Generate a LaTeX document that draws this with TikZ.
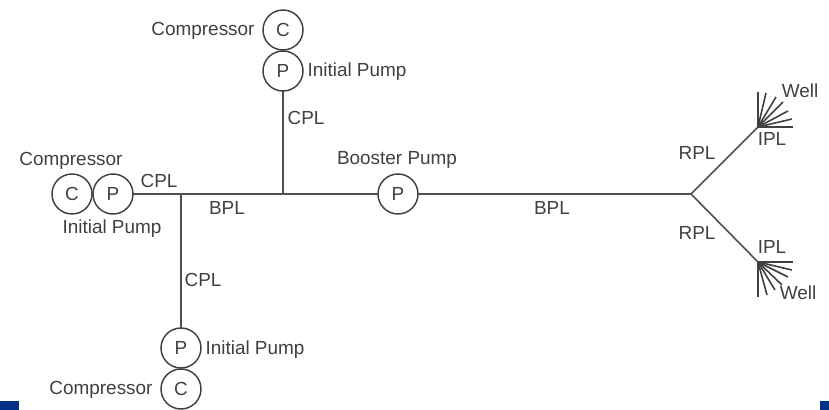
\documentclass[tikz,border=0pt]{standalone}
\usepackage{fontspec}
\setmainfont{Liberation Sans}
\definecolor{ink}{HTML}{404040}
\definecolor{pipe}{HTML}{505050}
\definecolor{cornerblue}{HTML}{003087}
\tikzset{
  unit/.style={circle,draw=ink,line width=1.1pt,minimum size=30pt,inner sep=0pt,outer sep=0pt,text=ink},
  lab/.style={inner sep=0pt,outer sep=0pt,text=ink},
  pipeline/.style={draw=pipe,line width=1.6pt},
  spur/.style={draw=ink,line width=1.2pt,line cap=butt},
  corner/.style={fill=cornerblue,draw=none}
}
\begin{document}
\begin{tikzpicture}[x=0.75pt,y=-0.75pt,font=\fontsize{14.2pt}{16pt}\selectfont]
\useasboundingbox (0,0) rectangle (829,410);
\fill[corner] (0,401) rectangle (19,410);
\fill[corner] (820,401) rectangle (829,410);
% units
\node[unit] (c1) at (283,30) {C};
\node[unit] (p1) at (283,71) {P};
\node[unit] (c2) at (72,194) {C};
\node[unit] (p2) at (113,194) {P};
\node[unit] (p3) at (181,348) {P};
\node[unit] (c3) at (181,389) {C};
\node[unit] (bp) at (398,194) {P};
% junctions
\coordinate (j1) at (181,194);
\coordinate (j2) at (283,194);
\coordinate (split) at (691,194);
\coordinate (hubA) at (758,127);
\coordinate (hubB) at (758,262);
% pipes
\draw[pipeline] (p2.east) -- (j1) -- (j2) -- (bp.west);
\draw[pipeline] (bp.east) -- (split);
\draw[pipeline] (p1.south) -- (j2);
\draw[pipeline] (j1) -- (p3.north);
\draw[pipeline,line width=1.2pt] (split) -- (hubA);
\draw[pipeline,line width=1.2pt] (split) -- (hubB);
% upper well fan
\foreach \n/\ex/\ey in {a/758/92,b/766/93,c/776/97,d/783/102,e/788/111,f/792/119,g/793/127}{
  \coordinate (u\n) at (\ex,\ey);
  \draw[spur] (hubA) -- (u\n);
}
% lower well fan
\foreach \n/\ex/\ey in {a/793/262,b/792/270,c/788/277,d/782/285,e/775/290,f/767/295,g/758/297}{
  \coordinate (l\n) at (\ex,\ey);
  \draw[spur] (hubB) -- (l\n);
}
% labels
\node[lab] (t1) at (203,31) {Compressor};
\node[lab] (t2) at (357,72) {Initial Pump};
\node[lab] (t3) at (306,118) {CPL};
\node[lab] (t4) at (397,160) {Booster Pump};
\node[lab] (t5) at (71,161) {Compressor};
\node[lab] (t6) at (112,229) {Initial Pump};
\node[lab] (t7) at (159,181) {CPL};
\node[lab] (t8) at (227,208) {BPL};
\node[lab] (t9) at (552,208) {BPL};
\node[lab] (t10) at (203,280) {CPL};
\node[lab] (t11) at (255,350) {Initial Pump};
\node[lab] (t12) at (101,390) {Compressor};
\node[lab] (t13) at (697,153) {RPL};
\node[lab] (t14) at (697,233) {RPL};
\node[lab] (t15) at (772,139) {IPL};
\node[lab] (t16) at (772,247) {IPL};
\node[lab] (t17) at (800,91) {Well};
\node[lab] (t18) at (798,293) {Well};
\end{tikzpicture}
\end{document}
